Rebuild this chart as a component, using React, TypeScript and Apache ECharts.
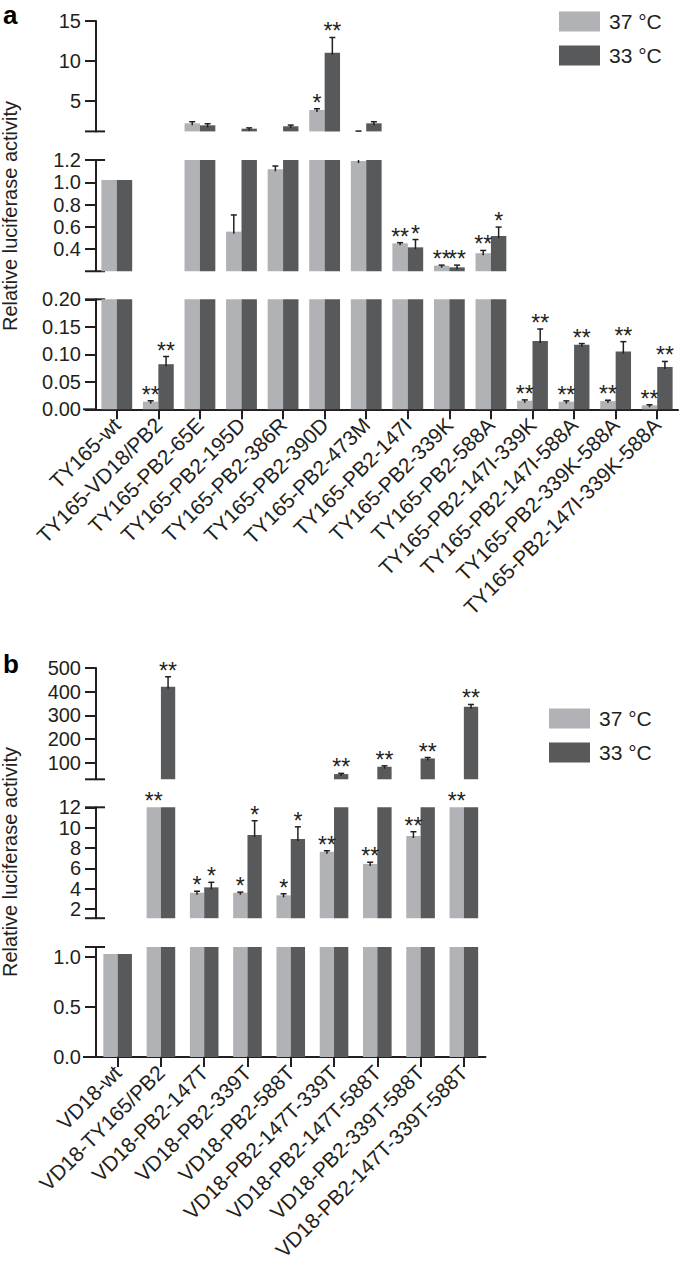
import React, { useEffect, useRef } from 'react';
import * as echarts from 'echarts';

// ---------- Panel a data ----------
const catsA = [
  'TY165-wt', 'TY165-VD18/PB2', 'TY165-PB2-65E', 'TY165-PB2-195D', 'TY165-PB2-386R',
  'TY165-PB2-390D', 'TY165-PB2-473M', 'TY165-PB2-147I', 'TY165-PB2-339K', 'TY165-PB2-588A',
  'TY165-PB2-147I-339K', 'TY165-PB2-147I-588A', 'TY165-PB2-339K-588A', 'TY165-PB2-147I-339K-588A',
];
const a37 = [1.02, 0.014, 2.21, 0.556, 1.116, 3.88, 1.19, 0.451, 0.25, 0.362, 0.0156, 0.0138, 0.015, 0.0073];
const a37Err = [0, 0.0015, 0.2, 0.15, 0.03, 0.15, 0.05, 0.006, 0.005, 0.025, 0.0015, 0.0015, 0.0015, 0.001];
const a33 = [1.02, 0.082, 1.96, 1.54, 1.84, 11.04, 2.21, 0.415, 0.235, 0.517, 0.124, 0.1175, 0.105, 0.077];
const a33Err = [0, 0.014, 0.2, 0.1, 0.15, 1.9, 0.2, 0.07, 0.02, 0.08, 0.022, 0.002, 0.018, 0.01];
const a37Sig = ['', '**', '', '', '', '*', '', '**', '**', '**', '**', '**', '**', '**'];
const a33Sig = ['', '**', '', '', '', '**', '', '*', '**', '*', '**', '**', '**', '**'];
// axis segments (bottom -> top)
const aSegMin = [0, 0.2, 1.2];
const aSegMax = [0.2, 1.2, 15];
const aTicks = [[0, 0.05, 0.1, 0.15, 0.2], [0.4, 0.6, 0.8, 1.0, 1.2], [5, 10, 15]];
const aDecimals = [2, 1, 0];

// ---------- Panel b data ----------
const catsB = [
  'VD18-wt', 'VD18-TY165/PB2', 'VD18-PB2-147T', 'VD18-PB2-339T', 'VD18-PB2-588T',
  'VD18-PB2-147T-339T', 'VD18-PB2-147T-588T', 'VD18-PB2-339T-588T', 'VD18-PB2-147T-339T-588T',
];
const b37 = [1.03, 20, 3.6, 3.6, 3.35, 7.63, 6.43, 9.18, 22];
const b37Err = [0, 1, 0.15, 0.06, 0.15, 0.1, 0.17, 0.42, 1];
const b33 = [1.03, 421, 4.13, 9.28, 8.88, 52, 83, 118, 336];
const b33Err = [0, 42, 0.5, 1.4, 1.2, 3, 4, 4, 10];
const b37Sig = ['', '**', '*', '*', '*', '**', '**', '**', '**'];
const b33Sig = ['', '**', '*', '*', '*', '**', '**', '**', '**'];
const bSegMin = [0, 1.1, 30];
const bSegMax = [1.1, 12, 500];
const bTicks = [[0, 0.5, 1.0], [2, 4, 6, 8, 10, 12], [100, 200, 300, 400, 500]];
const bDecimals = [1, 0, 0];

const seriesNames = ['37 °C', '33 °C'];

// ---------- styles / layout ----------
const FONT = '"Liberation Sans", Arial, Helvetica, sans-serif';
const INK = '#231f20';
const COLORS = ['#b1b2b6', '#58595b'];

const panels = [
  {
    cats: catsA, vals: [a37, a33], errs: [a37Err, a33Err], sigs: [a37Sig, a33Sig],
    segMin: aSegMin, segMax: aSegMax, ticks: aTicks, dec: aDecimals,
    left: 96, width: 582, bw: 15.4,
    segLayout: [{ top: 299.3, height: 110 }, { top: 160, height: 111.25 }, { top: 21, height: 110.4 }],
    legend: { left: 554, top: 6 }, label: { y: 15 }, yName: { y: 216 },
  },
  {
    cats: catsB, vals: [b37, b33], errs: [b37Err, b33Err], sigs: [b37Sig, b33Sig],
    segMin: bSegMin, segMax: bSegMax, ticks: bTicks, dec: bDecimals,
    left: 96, width: 389.5, bw: 14.3,
    segLayout: [{ top: 947, height: 110 }, { top: 807.3, height: 110.9 }, { top: 668, height: 111.3 }],
    legend: { left: 544, top: 703 }, label: { y: 664 }, yName: { y: 862 },
  },
];

function starSeg(v: number, mins: number[]) {
  let k = 0;
  for (let i = 0; i < mins.length; i++) if (v > mins[i]) k = i;
  return k;
}

function buildOption() {
  const grid: any[] = [];
  const xAxis: any[] = [];
  const yAxis: any[] = [];
  const series: any[] = [];
  const graphic: any[] = [];
  const legend: any[] = [];

  panels.forEach((p, pi) => {
    p.segLayout.forEach((sl, k) => {
      const g = grid.length;
      const isBottom = k === 0;
      grid.push({ left: p.left, width: p.width, top: sl.top, height: sl.height });
      xAxis.push({
        type: 'category', gridIndex: g, data: p.cats, show: isBottom,
        axisLine: { show: true, onZero: false, lineStyle: { color: INK, width: 2 } },
        axisTick: { show: true, alignWithLabel: true, length: 10, lineStyle: { color: INK, width: 2 } },
        axisLabel: { show: true, interval: 0, rotate: 45, fontSize: 21, color: INK, margin: 12, fontFamily: FONT },
        splitLine: { show: false },
      });
      const dec = p.dec[k];
      yAxis.push({
        type: 'value', gridIndex: g, min: p.segMin[k], max: p.segMax[k],
        axisLine: { show: true, lineStyle: { color: INK, width: 2 } },
        axisTick: { show: true, length: 11, lineStyle: { color: INK, width: 2 }, customValues: p.ticks[k] },
        axisLabel: {
          show: true, customValues: p.ticks[k], fontSize: 20, color: INK, margin: 15, fontFamily: FONT,
          formatter: (v: number) => v.toFixed(dec),
        },
        splitLine: { show: false },
      });
      for (let t = 0; t < 2; t++) {
        const vals = p.vals[t];
        const errs = p.errs[t];
        const sigs = p.sigs[t];
        const side = t === 0 ? -1 : 1;
        const segMin = p.segMin[k];
        const segMax = p.segMax[k];
        series.push({
          type: 'bar', name: seriesNames[t], xAxisIndex: g, yAxisIndex: g,
          data: vals.map((v) => (v > segMin ? v : '-')),
          barWidth: p.bw, barGap: '0%', clip: true, silent: true,
          itemStyle: { color: COLORS[t] },
        });
        series.push({
          type: 'custom', xAxisIndex: g, yAxisIndex: g, silent: true, z: 10, clip: false,
          data: vals.map((v, i) => [i, v, errs[i]]),
          renderItem: (params: any, api: any) => {
            const i = api.value(0);
            const v = api.value(1);
            const e = api.value(2);
            const cs = params.coordSys;
            const top = cs.y;
            const bot = cs.y + cs.height;
            const pv = api.coord([i, v]);
            const xc = pv[0] + (side * p.bw) / 2;
            const yV = pv[1];
            const yE = api.coord([i, v + e])[1];
            const children: any[] = [];
            if (e > 0 && v < segMax && v + e > segMin) {
              const y1 = Math.min(yV + 2, bot);
              const y2 = Math.max(yE, top);
              if (y1 > y2) {
                children.push({ type: 'line', shape: { x1: xc, y1, x2: xc, y2 }, style: { stroke: INK, lineWidth: 1.5 } });
              }
              if (yE >= top - 0.5 && yE <= bot + 0.5) {
                children.push({ type: 'line', shape: { x1: xc - 3, y1: yE, x2: xc + 3, y2: yE }, style: { stroke: INK, lineWidth: 1.5 } });
              }
            }
            const sig = sigs[i];
            if (sig && k === starSeg(v, p.segMin)) {
              const yS = Math.max(e > 0 ? yE : yV, top);
              children.push({
                type: 'text', x: xc, y: yS - 6,
                style: { text: sig, fontSize: 23, fontFamily: FONT, fill: INK, align: 'center', verticalAlign: 'middle' },
              });
            }
            return { type: 'group', children };
          },
        });
      }
    });

    // caps at the axis breaks
    const axX = p.left;
    const capYs = [
      p.segLayout[0].top,
      p.segLayout[1].top + p.segLayout[1].height,
      p.segLayout[1].top,
      p.segLayout[2].top + p.segLayout[2].height,
    ];
    capYs.forEach((y) => {
      graphic.push({ type: 'line', shape: { x1: axX - 11, y1: y, x2: axX + 9, y2: y }, style: { stroke: INK, lineWidth: 2 } });
    });
    const baseY = p.segLayout[0].top + p.segLayout[0].height;
    graphic.push({ type: 'line', shape: { x1: axX - 13, y1: baseY, x2: axX, y2: baseY }, style: { stroke: INK, lineWidth: 2 } });
    graphic.push({
      type: 'text', x: 3, y: p.label.y,
      style: { text: pi === 0 ? 'a' : 'b', fontSize: 26, fontWeight: 'bold', fontFamily: FONT, fill: '#000', verticalAlign: 'middle' },
    });
    graphic.push({
      type: 'text', x: 10, y: p.yName.y, rotation: Math.PI / 2,
      style: { text: 'Relative luciferase activity', fontSize: 20, fontFamily: FONT, fill: INK, align: 'center', verticalAlign: 'middle' },
    });
    legend.push({
      data: seriesNames, orient: 'vertical', left: p.legend.left, top: p.legend.top,
      itemWidth: 41, itemHeight: 20, itemGap: 13, icon: 'rect', selectedMode: false,
      textStyle: { fontSize: 21, lineHeight: 20, color: INK, fontFamily: FONT, padding: [0, 0, 0, 4] },
    });
  });

  return {
    animation: false,
    backgroundColor: '#ffffff',
    textStyle: { fontFamily: FONT },
    grid, xAxis, yAxis, series, graphic, legend,
  };
}

export default function App() {
  const ref = useRef<HTMLDivElement>(null);
  useEffect(() => {
    const chart = echarts.init(ref.current!, undefined, { renderer: 'svg' });
    chart.setOption(buildOption() as any);
    return () => chart.dispose();
  }, []);
  return <div ref={ref} style={{ position: 'absolute', left: 0, top: 0, width: 685, height: 1268 }} />;
}
